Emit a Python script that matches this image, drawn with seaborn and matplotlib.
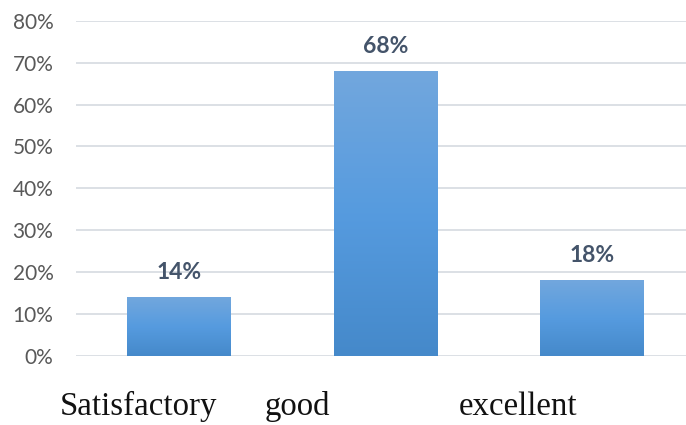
import matplotlib.pyplot as plt
import seaborn as sns
import pandas as pd
import numpy as np
from matplotlib.colors import LinearSegmentedColormap

sns.set_theme(style="whitegrid")
plt.rcParams['font.family'] = ['Lato', 'DejaVu Sans']

# data
categories = ['Satisfactory', 'good', 'excellent']
shares = [14, 68, 18]
bar_labels = ['14%', '68%', '18%']
yticks = [0, 10, 20, 30, 40, 50, 60, 70, 80]
ytick_labels = [f'{v}%' for v in yticks]

df = pd.DataFrame({'rating': categories, 'share': shares})

fig = plt.figure(figsize=(6.86, 4.25), dpi=100)
ax = fig.add_axes([0.1104, 0.163, 0.903, 0.788])

sns.barplot(data=df, x='rating', y='share', width=0.5, color='#5A9BDD', ax=ax)

# gradient fill clipped to each bar
cmap = LinearSegmentedColormap.from_list('bar', ['#4589CA', '#569BDF', '#72A7DD'])
grad = np.linspace(0, 1, 256).reshape(-1, 1)
for p in ax.patches:
    x0, y0 = p.get_x(), p.get_y()
    w, h = p.get_width(), p.get_height()
    im = ax.imshow(grad, cmap=cmap, origin='lower', aspect='auto',
                   extent=[x0, x0 + w, y0, y0 + h], zorder=p.get_zorder() + 0.1)
    im.set_clip_path(p)
    p.set_edgecolor('none')

for i, (v, lab) in enumerate(zip(shares, bar_labels)):
    ax.annotate(lab, (i, v), xytext=(0, 13), textcoords='offset points',
                ha='center', va='baseline', fontsize=16.5, fontweight='bold',
                color='#44546A')

ax.set_xlim(-0.5, 2.5)
ax.set_ylim(0, 80)
ax.set_yticks(yticks)
ax.set_yticklabels(ytick_labels)
ax.tick_params(axis='y', length=0, pad=16, labelsize=15, labelcolor='#595959')
ax.set_xticks([])
ax.set_xlabel(None)
ax.set_ylabel(None)
ax.grid(axis='y', color='#D9DDE3', linewidth=1.3)
ax.grid(axis='x', visible=False)
ax.set_axisbelow(True)
sns.despine(ax=ax, left=True, bottom=True)

# category words typed under the chart in a serif face
word_x = [60, 265, 459]
for word, px in zip(categories, word_x):
    fig.text(px / 686, 10 / 425, word, ha='left', va='baseline',
             fontsize=23.7, family=['Liberation Serif', 'DejaVu Serif'],
             color='#111111')

fig.savefig('out.png', dpi=100)
